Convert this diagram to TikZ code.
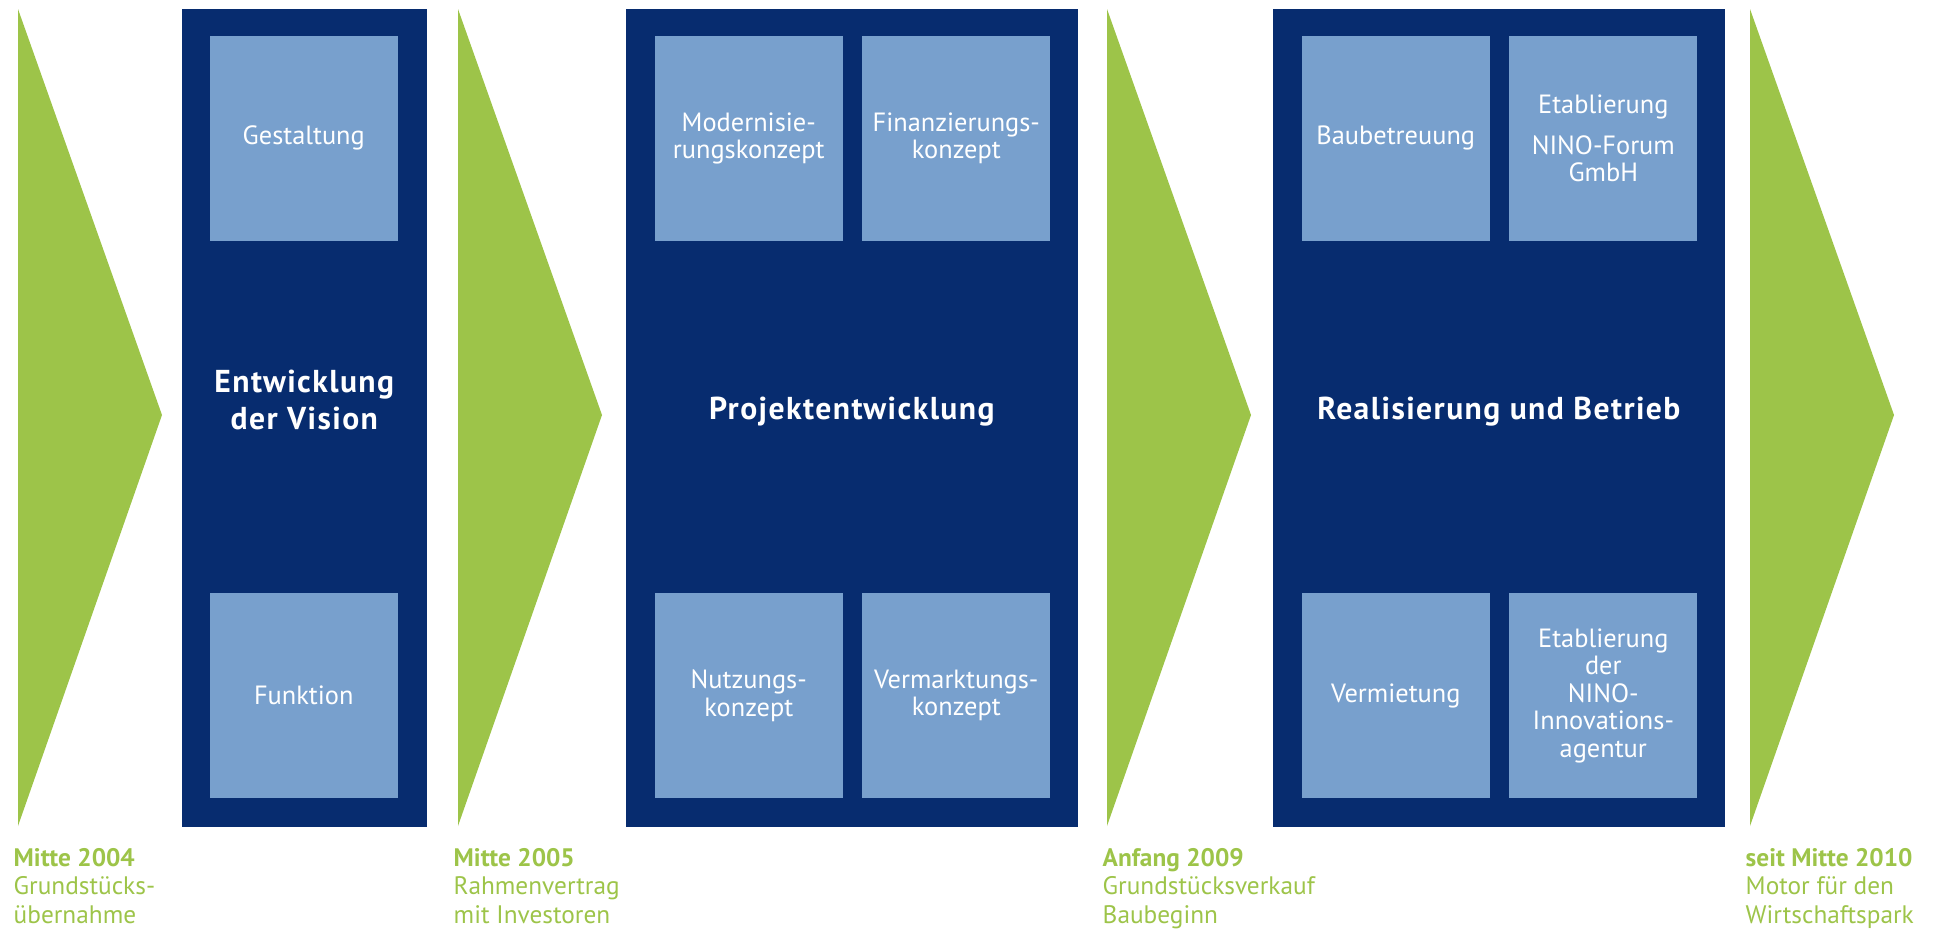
\documentclass[tikz,border=0pt]{standalone}
\usepackage{fontspec}
\setmainfont{PT Sans}
\usetikzlibrary{positioning}
\definecolor{ninogreen}{HTML}{9DC449}
\definecolor{ninonavy}{HTML}{072C6F}
\definecolor{ninolight}{HTML}{78A0CD}
\tikzset{phase node/.style={fill=ninonavy,minimum height=8.18cm,inner sep=0pt,anchor=north west},
	task node/.style={fill=ninolight,minimum width=1.88cm,minimum height=2.05cm,inner sep=0pt,
		text=white,align=center,font=\fontsize{7.5}{7.8}\selectfont},
	title node/.style={text=white,align=center,
		font=\fontsize{9}{10.5}\selectfont\bfseries\addfontfeatures{LetterSpace=4.5}},
	date node/.style={text=ninogreen,align=left,anchor=north west,inner sep=0pt,
		font=\fontsize{7.2}{8}\selectfont},
}

\begin{document}
\begin{tikzpicture}[x=0.01cm,y=-0.01cm]
	\useasboundingbox (0,0) rectangle (1943,930);
	
	% milestones
	\foreach \l in {18,458,1107,1750}
		\fill[ninogreen] (\l,9) -- (\l+144,415) -- (\l,826) -- cycle;
	
	\node[phase node,minimum width=2.45cm] (p1) at (181,8) {};
	\node[phase node,minimum width=4.52cm] (p2) at (625,8) {};
	\node[phase node,minimum width=4.52cm] (p3) at (1272,8) {};
	
	\node[task node] (gest)[below right = 0.27cm and 0.28cm of p1.north west]{Gestaltung};
	\node[task node] (funk)[above right = 0.29cm and 0.28cm of p1.south west]{Funktion};
	
	\node[task node] (mod)[below right = 0.27cm and 0.29cm of p2.north west]{Modernisie-\\rungskonzept};
	\node[task node] (fin)[right = 0.18cm of mod]{Finanzierungs-\\konzept};
	\node[task node] (nutz)[above right = 0.29cm and 0.29cm of p2.south west]{Nutzungs-\\konzept};
	\node[task node] (verm)[right = 0.18cm of nutz]{Vermarktungs-\\konzept};
	
	\node[task node] (bau)[below right = 0.27cm and 0.29cm of p3.north west]{Baubetreuung};
	\node[task node] (forum)[right = 0.18cm of bau]{Etablierung\\[4pt]NINO-Forum\\GmbH};
	\node[task node] (miet)[above right = 0.29cm and 0.29cm of p3.south west]{Vermietung};
	\node[task node] (agent)[right = 0.18cm of miet]{Etablierung\\der\\NINO-\\Innovations-\\agentur};
	
	\node[title node] (t1) at ([yshift=0.18cm]p1.center){Entwicklung\\der Vision};
	\node[title node] (t2) at ([yshift=0.06cm]p2.center){Projektentwicklung};
	\node[title node] (t3) at ([yshift=0.06cm]p3.center){Realisierung und Betrieb};
	
	\node[date node] (d1) at (13,848){\textbf{Mitte 2004}\\Grundstücks-\\übernahme};
	\node[date node] (d2) at (453,848){\textbf{Mitte 2005}\\Rahmenvertrag\\mit Investoren};
	\node[date node] (d3) at (1102,848){\textbf{Anfang 2009}\\Grundstücksverkauf\\Baubeginn};
	\node[date node] (d4) at (1745,848){\textbf{seit Mitte 2010}\\Motor für den\\Wirtschaftspark};
\end{tikzpicture}
\end{document}
